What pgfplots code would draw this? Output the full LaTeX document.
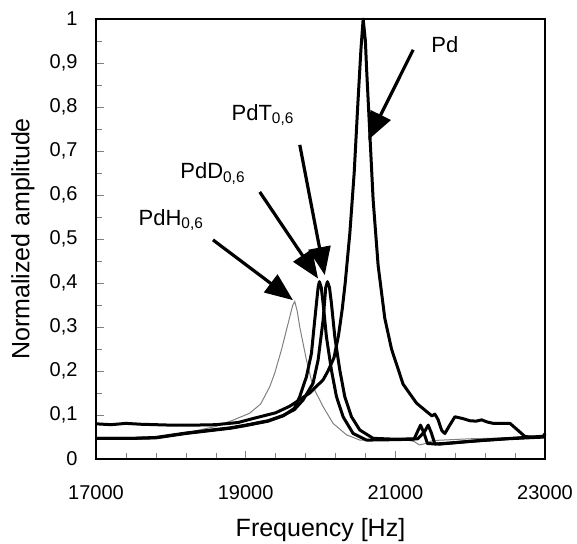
\documentclass[border=0pt]{standalone}
\usepackage{fontspec}
\setmainfont{Liberation Sans}
\usepackage{pgfplots}
\pgfplotsset{compat=1.18}
\usetikzlibrary{arrows.meta}

% spectra (frequency in Hz, normalized amplitude)
\begin{document}
\begin{tikzpicture}
\begin{axis}[
  name=ax,
  scale only axis,
  width=224.5pt, height=220pt,
  xmin=17000, xmax=23000, ymin=0, ymax=1,
  xtick={17000,19000,21000,23000},
  scaled x ticks=false,
  minor x tick num=4,
  ytick={0,0.1,0.2,0.3,0.4,0.5,0.6,0.7,0.8,0.9,1},
  minor y tick num=1,
  tick pos=left, tick align=inside,
  major tick length=4pt, minor tick length=3pt,
  axis line style={line width=1.2pt},
  /pgf/number format/.cd, use comma, 1000 sep={}, assume math mode=true,
  /pgfplots/.cd,
  tick label style={font=\fontsize{10}{12}\selectfont},
  yticklabel style={xshift=-5.7pt},
  xticklabel style={yshift=-9.7pt},
  xlabel={Frequency [Hz]},
  ylabel={Normalized amplitude},
  label style={font=\fontsize{12.5}{15}\selectfont},
  x label style={at={(axis description cs:0.5,0)}, anchor=north, yshift=-26pt},
  y label style={at={(axis description cs:-0.1626,0.5)}, anchor=center},
  clip=false,
]
% PdH0,6 (thin grey)
\addplot[gray, line width=0.5pt] coordinates {
(17000,0.047) (17500,0.047) (17800,0.048) (18000,0.054) (18200,0.060)
(18384,0.066) (18600,0.074) (18826,0.088) (19053,0.104) (19200,0.125)
(19321,0.164) (19388,0.195) (19478,0.248) (19589,0.323) (19630,0.350)
(19656,0.358) (19690,0.335) (19723,0.300) (19812,0.225) (19900,0.164)
(20035,0.119) (20168,0.081) (20347,0.055) (20525,0.043) (20800,0.044)
(21100,0.045) (21250,0.040) (21320,0.032) (21400,0.035) (21500,0.042)
(22000,0.046) (22500,0.048) (23000,0.050)
};
% PdD0,6
\addplot[black, line width=1.5pt, line join=round] coordinates {
(17000,0.047) (17500,0.047) (17800,0.048) (18000,0.053) (18200,0.058)
(18500,0.064) (18800,0.070) (19000,0.076) (19300,0.086) (19500,0.098)
(19650,0.115) (19723,0.142) (19812,0.187) (19879,0.240) (19923,0.316)
(19968,0.390) (19985,0.403) (20010,0.390) (20035,0.354) (20079,0.278)
(20146,0.202) (20213,0.142) (20302,0.096) (20436,0.058) (20615,0.043)
(21000,0.044) (21250,0.045) (21290,0.060) (21337,0.077) (21380,0.060)
(21430,0.035) (21600,0.034) (22000,0.040) (22500,0.046) (23000,0.050)
};
% PdT0,6
\addplot[black, line width=1.5pt, line join=round] coordinates {
(17000,0.047) (17500,0.047) (17800,0.049) (18000,0.054) (18200,0.059)
(18500,0.065) (18800,0.071) (19000,0.077) (19300,0.087) (19500,0.099)
(19650,0.112) (19767,0.134) (19900,0.172) (19968,0.225) (20035,0.316)
(20070,0.390) (20093,0.403) (20120,0.390) (20146,0.354) (20191,0.278)
(20258,0.202) (20324,0.142) (20414,0.096) (20525,0.066) (20703,0.047)
(21000,0.045) (21300,0.046) (21390,0.062) (21439,0.077) (21480,0.060)
(21528,0.034) (21700,0.036) (22200,0.043) (23000,0.052)
};
% Pd
\addplot[black, line width=1.5pt, line join=round] coordinates {
(17000,0.080) (17200,0.078) (17400,0.081) (17600,0.079) (17800,0.078)
(18000,0.077) (18300,0.077) (18600,0.078) (18900,0.083) (19143,0.094)
(19400,0.105) (19589,0.120) (19856,0.150) (20035,0.180) (20100,0.200)
(20180,0.230) (20240,0.280) (20290,0.340) (20330,0.400) (20392,0.513)
(20450,0.650) (20500,0.810) (20540,0.930) (20570,1.000) (20600,0.950)
(20615,0.890) (20659,0.740) (20703,0.590) (20770,0.440) (20859,0.320)
(20949,0.250) (21104,0.170) (21283,0.127) (21417,0.108) (21490,0.098)
(21528,0.102) (21570,0.090) (21620,0.065) (21662,0.058) (21720,0.075)
(21796,0.096) (21900,0.092) (21997,0.087) (22080,0.086) (22153,0.089)
(22230,0.084) (22309,0.081) (22532,0.081) (22620,0.068) (22733,0.051)
(22900,0.049) (22980,0.052) (23000,0.058)
};
% annotations
\begin{scope}[line width=1.6pt, -{Triangle[length=14pt,width=11pt]}]
\draw (axis cs:21238,0.930) -- (axis cs:20637,0.725);
\draw (axis cs:19723,0.714) -- (axis cs:20057,0.418);
\draw (axis cs:19188,0.607) -- (axis cs:19968,0.410);
\draw (axis cs:18563,0.498) -- (axis cs:19633,0.361);
\end{scope}
\begin{scope}[every node/.style={font=\fontsize{11}{13}\selectfont, inner sep=0pt}]
\node at (axis cs:21662,0.941) {Pd};
\node at (axis cs:19232,0.782) {PdT\textsubscript{0,6}};
\node at (axis cs:18563,0.649) {PdD\textsubscript{0,6}};
\node at (axis cs:18006,0.543) {PdH\textsubscript{0,6}};
\end{scope}
\end{axis}
\pgfresetboundingbox
\path ([shift={(-48pt,-42pt)}]ax.south west) rectangle ([shift={(16pt,9.5pt)}]ax.north east);
\end{tikzpicture}
\end{document}
